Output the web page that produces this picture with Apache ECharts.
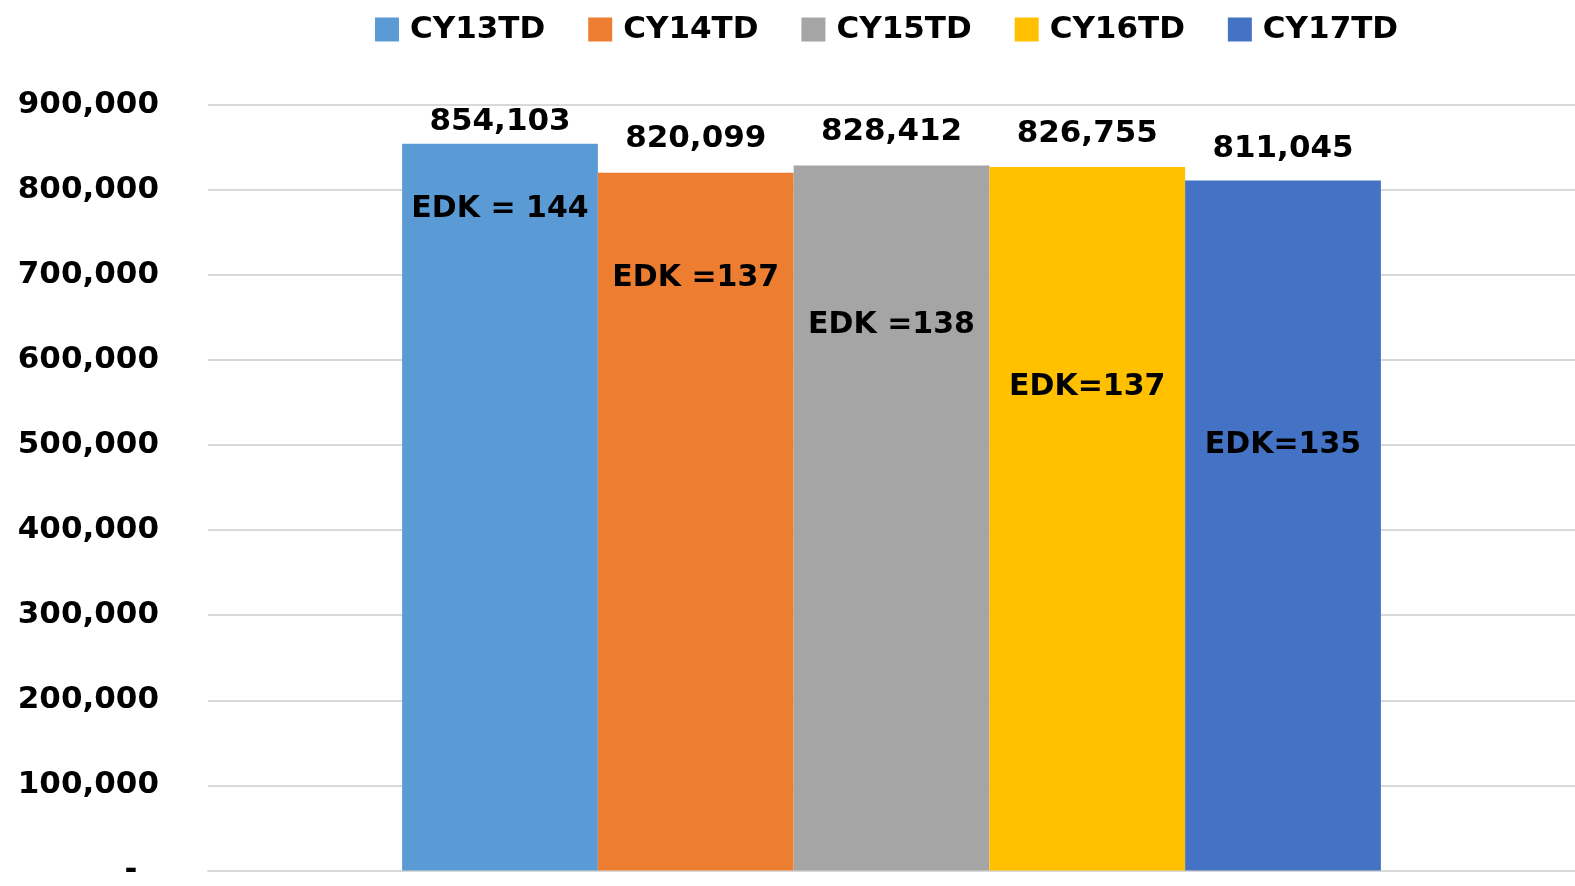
<!DOCTYPE html>
<html>
<head>
<meta charset="utf-8">
<script src="https://cdn.jsdelivr.net/npm/echarts@6/dist/echarts.min.js"></script>
<style>
  html, body { margin: 0; padding: 0; background: #fff; }
  #chart { width: 1575px; height: 886px; }
</style>
</head>
<body>
<div id="chart"></div>
<script>
// ---- data ----
const categories = ['YTD'];
const seriesNames = ['CY13TD', 'CY14TD', 'CY15TD', 'CY16TD', 'CY17TD'];
const seriesValues = [854103, 820099, 828412, 826755, 811045];
const seriesColors = ['#5B9BD5', '#ED7D31', '#A5A5A5', '#FFC000', '#4472C4'];
const edkTexts = ['EDK = 144', 'EDK =137', 'EDK =138', 'EDK=137', 'EDK=135'];
const edkLabelY = [777300, 696600, 640500, 568300, 500200];
const valueLabelDistance = [6, 18, 18, 18, 16];
const yTicks = { min: 0, max: 900000, interval: 100000 };

const FONT = 'DejaVu Sans';
const txt = { fontFamily: FONT, fontWeight: 'bold', fontSize: 31, color: '#000' };
const edkTxt = { fontFamily: FONT, fontWeight: 'bold', fontSize: 30, color: '#000' };

const series = seriesNames.map((name, i) => ({
  name: name,
  type: 'bar',
  barGap: '0%',
  barCategoryGap: '28.4%',
  itemStyle: { color: seriesColors[i] },
  data: [seriesValues[i]],
  label: {
    show: true,
    position: 'top',
    distance: valueLabelDistance[i],
    formatter: p => p.value.toLocaleString('en-US'),
    ...txt
  },
  markPoint: {
    symbol: 'rect',
    symbolSize: 0,
    silent: true,
    itemStyle: { color: 'transparent' },
    label: {
      show: true,
      position: 'inside',
      formatter: () => edkTexts[i],
      ...edkTxt
    },
    data: [{ coord: [categories[0], edkLabelY[i]] }]
  }
}));

const chart = echarts.init(document.getElementById('chart'), null, { renderer: 'canvas' });
chart.setOption({
  animation: false,
  backgroundColor: '#fff',
  legend: {
    data: seriesNames,
    left: 370,
    top: 9,
    itemWidth: 24,
    itemHeight: 24,
    itemGap: 43,
    icon: 'rect',
    textStyle: { ...txt, padding: [0, 0, 0, 6] }
  },
  grid: { left: 208, right: 0, top: 104.7, bottom: 12.3, containLabel: false },
  xAxis: {
    type: 'category',
    data: categories,
    axisLine: { show: true, lineStyle: { color: '#d9d9d9', width: 2 } },
    axisTick: { show: false },
    axisLabel: { show: false }
  },
  yAxis: {
    type: 'value',
    min: yTicks.min,
    max: yTicks.max,
    interval: yTicks.interval,
    axisLine: { show: false },
    axisTick: { show: false },
    splitLine: { lineStyle: { color: '#d9d9d9', width: 2 } },
    axisLabel: {
      margin: 49,
      ...txt,
      formatter: v => v === 0 ? '-  ' : v.toLocaleString('en-US')
    }
  },
  series: series
});
</script>
</body>
</html>
